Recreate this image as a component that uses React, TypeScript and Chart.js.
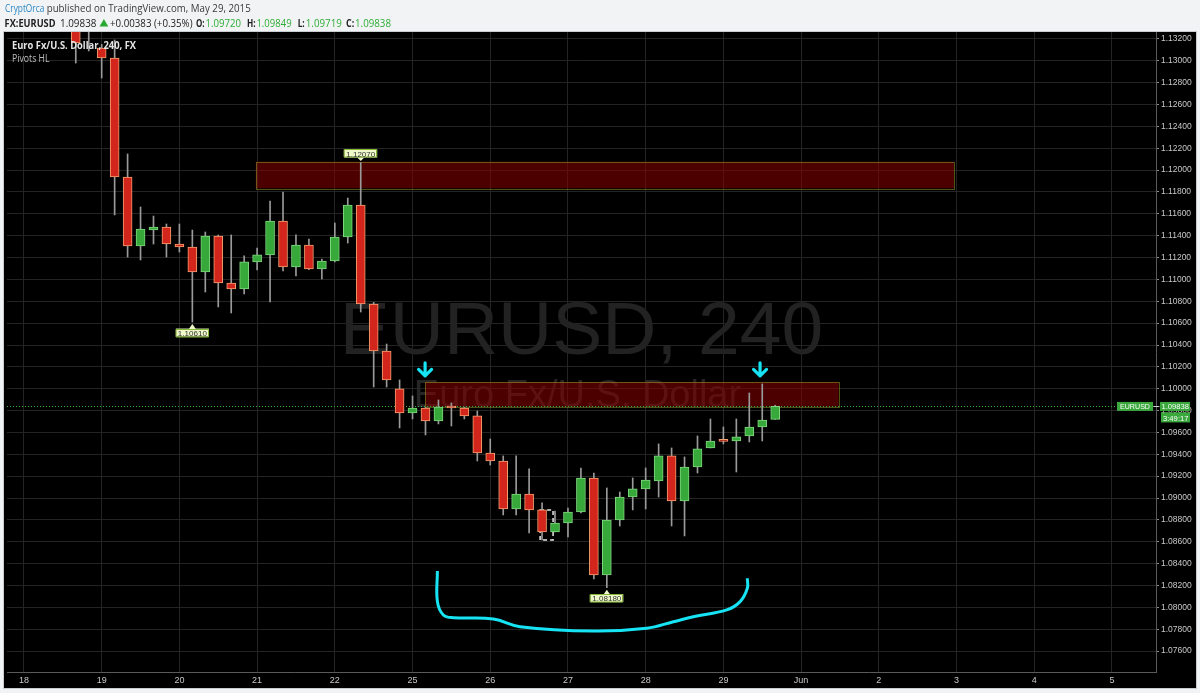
import React, { useEffect, useRef } from 'react';
import { Chart, registerables } from 'chart.js';
Chart.register(...registerables);

// ---------- data ----------
const dayLabels = ['18', '19', '20', '21', '22', '25', '26', '27', '28', '29', 'Jun', '2', '3', '4', '5'];
const barsPerDay = 6;
const firstBar = 4;
const xMin = -1.31;
const xMax = 87.4;
const yMin = 1.07408;
const yMax = 1.13264;
const yStep = 0.002;

const opens = [
  1.134, 1.133, 1.13118, 1.13026, 1.11937, 1.11306, 1.11452, 1.1148, 1.11324, 1.11297,
  1.11068, 1.11397, 1.10967, 1.10913, 1.1116, 1.11224, 1.11535, 1.11114, 1.11315, 1.11096,
  1.11169, 1.11388, 1.11681, 1.10775, 1.10345, 1.1, 1.09778, 1.09824, 1.09705, 1.09842,
  1.09824, 1.09751, 1.09412, 1.09339, 1.089, 1.09037, 1.08891, 1.08689, 1.08771, 1.08872,
  1.09183, 1.08296, 1.08799, 1.09009, 1.09083, 1.09156, 1.09385, 1.08973, 1.09284, 1.09458,
  1.09525, 1.09522, 1.09568, 1.0965, 1.0972,
];
const highs = [
  1.1345, 1.1342, 1.1315, 1.13191, 1.12148, 1.11663, 1.1158, 1.11507, 1.11507, 1.11452,
  1.11434, 1.11407, 1.11407, 1.11215, 1.11288, 1.11718, 1.118, 1.11407, 1.1137, 1.11187,
  1.11516, 1.11745, 1.1207, 1.1079, 1.10409, 1.1008, 1.09934, 1.0983, 1.09897, 1.0987,
  1.0983, 1.09796, 1.0954, 1.09385, 1.09385, 1.09266, 1.08955, 1.08881, 1.08909, 1.09275,
  1.09229, 1.09092, 1.09055, 1.09183, 1.09275, 1.09495, 1.09458, 1.09376, 1.09568, 1.09723,
  1.0965, 1.09723, 1.09961, 1.10044, 1.09849,
];
const lows = [
  1.1298, 1.1309, 1.12843, 1.1159, 1.11205, 1.11178, 1.11324, 1.11205, 1.11251, 1.1061,
  1.10885, 1.10748, 1.10693, 1.10867, 1.11086, 1.10794, 1.11077, 1.11031, 1.1109, 1.11004,
  1.1116, 1.11333, 1.10702, 1.10016, 1.10016, 1.09641, 1.09723, 1.09577, 1.09678, 1.09659,
  1.09723, 1.09339, 1.09302, 1.08845, 1.08845, 1.0868, 1.08616, 1.08689, 1.08643, 1.08863,
  1.08259, 1.0818, 1.08744, 1.08891, 1.089, 1.09009, 1.08744, 1.08653, 1.09229, 1.09458,
  1.09495, 1.09238, 1.09513, 1.09522, 1.09719,
];
const closes = [
  1.13163, 1.1338, 1.13026, 1.11937, 1.11306, 1.11461, 1.1148, 1.11324, 1.11297, 1.11068,
  1.11397, 1.10967, 1.10913, 1.1116, 1.11224, 1.11535, 1.11114, 1.11315, 1.11096, 1.11169,
  1.11388, 1.11681, 1.10775, 1.10345, 1.1008, 1.09778, 1.09824, 1.09705, 1.09833, 1.09824,
  1.09751, 1.09412, 1.09339, 1.089, 1.09037, 1.08891, 1.08689, 1.08771, 1.08872, 1.09183,
  1.08296, 1.08799, 1.09009, 1.09083, 1.09165, 1.09385, 1.08973, 1.09284, 1.09449, 1.09522,
  1.09518, 1.09559, 1.0965, 1.09714, 1.09838,
];

const lastPrice = 1.09838;
const zoneStartBars = [17.9, 30.97];
const zoneEndBars = [71.8, 62.9];
const zoneTops = [1.12077, 1.10062];
const zoneBottoms = [1.11834, 1.09835];
const pivotHighBars = [26];
const pivotHighPrices = [1.1207];
const pivotHighTexts = ['1.12070'];
const pivotLowBars = [13, 45];
const pivotLowPrices = [1.1061, 1.0818];
const pivotLowTexts = ['1.10610', '1.08180'];
const arrowBars = [30.97, 56.83];
const arrowTipPrice = 1.10108;
const curveBars = [31.92, 31.92, 32.38, 33.15, 36.24, 38.3, 43.96, 48.08, 50.14, 51.68, 54.26, 55.29, 55.85, 55.85];
const curvePrices = [1.08332, 1.08052, 1.0793, 1.07905, 1.07893, 1.07823, 1.07783, 1.07808, 1.07868, 1.07914, 1.07976, 1.08052, 1.08174, 1.08265];
const markBars = [39.85, 40.85];
const markPrices = [1.08891, 1.08616];

// ---------- styles ----------
const RED = '#d2261d';
const RED_BORDER = '#f2a070';
const GREEN = '#37a83a';
const GREEN_BORDER = '#7fd67f';
const WICK = '#9a9a9a';
const CYAN = '#16e4f4';
const GRID = '#242424';
const SANS = '"Open Sans", "Noto Sans", sans-serif';
const AXF = '"Liberation Sans", Arial, sans-serif';

function fitText(ctx: CanvasRenderingContext2D, text: string, x: number, y: number, w: number) {
  const m = ctx.measureText(text).width;
  ctx.save();
  ctx.translate(x, y);
  if (m > 0) ctx.scale(w / m, 1);
  ctx.fillText(text, 0, 0);
  ctx.restore();
}

const overlay = {
  id: 'overlay',
  beforeDraw(chart: any) {
    const ctx: CanvasRenderingContext2D = chart.ctx;
    ctx.save();
    ctx.fillStyle = '#f1f3f4';
    ctx.fillRect(0, 0, chart.width, chart.height);
    ctx.fillStyle = '#000';
    ctx.fillRect(4, 32, 1192, 656);
    ctx.strokeStyle = '#c8cdd1';
    ctx.lineWidth = 1;
    ctx.strokeRect(3.5, 31.5, 1193, 657);

    ctx.textBaseline = 'alphabetic';
    ctx.textAlign = 'left';
    // header line 1
    ctx.font = `10.5px ${SANS}`;
    ctx.fillStyle = '#2b87c8';
    fitText(ctx, 'CryptOrca', 5, 12, 39.3);
    ctx.fillStyle = '#3a3a3a';
    fitText(ctx, 'published on TradingView.com, May 29, 2015', 46.7, 12, 204);
    // header line 2
    const segs: [string, number, number, string, boolean][] = [
      ['FX:EURUSD', 4.6, 50.9, '#222', true],
      ['1.09838', 60, 36.4, '#222', false],
      ['+0.00383 (+0.35%)', 110, 82.5, '#222', false],
      ['O:', 196, 8.6, '#222', true],
      ['1.09720', 205.5, 35.5, '#2fae37', false],
      ['H:', 247, 8.6, '#222', true],
      ['1.09849', 256.4, 35.2, '#2fae37', false],
      ['L:', 297.7, 7, '#222', true],
      ['1.09719', 305.8, 36, '#2fae37', false],
      ['C:', 346, 8.2, '#222', true],
      ['1.09838', 355, 36, '#2fae37', false],
    ];
    for (const [t, x, w, c, b] of segs) {
      ctx.font = `${b ? 'bold ' : ''}10.5px ${SANS}`;
      ctx.fillStyle = c;
      fitText(ctx, t, x, 26.5, w);
    }
    ctx.fillStyle = '#2aa835';
    ctx.beginPath();
    ctx.moveTo(99.5, 26.5);
    ctx.lineTo(108.3, 26.5);
    ctx.lineTo(103.9, 19);
    ctx.closePath();
    ctx.fill();
    ctx.restore();
  },
  beforeDatasetsDraw(chart: any) {
    const ctx: CanvasRenderingContext2D = chart.ctx;
    const a = chart.chartArea;
    const xs = chart.scales.x;
    const ys = chart.scales.y;
    ctx.save();
    ctx.beginPath();
    ctx.rect(a.left, a.top, a.right - a.left, a.bottom - a.top);
    ctx.clip();
    // watermark
    const cx = (a.left + a.right) / 2;
    ctx.textAlign = 'center';
    ctx.textBaseline = 'alphabetic';
    ctx.fillStyle = '#222222';
    ctx.font = `75px ${AXF}`;
    ctx.fillText('EURUSD, 240', cx, a.top + 322);
    ctx.font = `38px ${AXF}`;
    ctx.fillStyle = '#262626';
    ctx.fillText('Euro Fx/U.S. Dollar', cx - 4, a.top + 375);
    // zones
    for (let i = 0; i < zoneTops.length; i++) {
      const x1 = xs.getPixelForValue(zoneStartBars[i]);
      const x2 = xs.getPixelForValue(zoneEndBars[i]);
      const y1 = ys.getPixelForValue(zoneTops[i]);
      const y2 = ys.getPixelForValue(zoneBottoms[i]);
      ctx.fillStyle = 'rgba(140, 0, 0, 0.55)';
      ctx.fillRect(x1, y1, x2 - x1, y2 - y1);
      ctx.strokeStyle = 'rgba(140, 155, 40, 0.55)';
      ctx.lineWidth = 1;
      ctx.strokeRect(Math.round(x1) + 0.5, Math.round(y1) + 0.5, Math.round(x2 - x1), Math.round(y2 - y1));
    }
    // current price dotted line
    const py = Math.round(ys.getPixelForValue(lastPrice)) + 0.5;
    ctx.strokeStyle = '#33b040';
    ctx.setLineDash([1, 2]);
    ctx.beginPath();
    ctx.moveTo(a.left, py);
    ctx.lineTo(a.right, py);
    ctx.stroke();
    // dashed mark
    ctx.strokeStyle = '#e8e8e8';
    ctx.lineWidth = 1.5;
    ctx.setLineDash([4, 3]);
    const mx1 = xs.getPixelForValue(markBars[0]);
    const mx2 = xs.getPixelForValue(markBars[1]);
    const my1 = ys.getPixelForValue(markPrices[0]);
    const my2 = ys.getPixelForValue(markPrices[1]);
    ctx.strokeRect(mx1, my1, mx2 - mx1, my2 - my1);
    ctx.setLineDash([]);
    ctx.restore();
  },
  afterDatasetsDraw(chart: any) {
    const ctx: CanvasRenderingContext2D = chart.ctx;
    const xs = chart.scales.x;
    const ys = chart.scales.y;
    ctx.save();
    // arrows
    ctx.strokeStyle = CYAN;
    ctx.lineWidth = 3.2;
    ctx.lineCap = 'round';
    ctx.lineJoin = 'round';
    const tip = ys.getPixelForValue(arrowTipPrice);
    for (const b of arrowBars) {
      const x = xs.getPixelForValue(b);
      ctx.beginPath();
      ctx.moveTo(x, tip - 14);
      ctx.lineTo(x, tip - 1);
      ctx.moveTo(x - 6.5, tip - 7.5);
      ctx.lineTo(x, tip - 1);
      ctx.lineTo(x + 6.5, tip - 7.5);
      ctx.stroke();
    }
    // pivot labels
    const drawLabel = (x: number, boxTop: number, text: string, apexY: number, baseY: number) => {
      ctx.fillStyle = '#eef8c8';
      ctx.strokeStyle = '#86b838';
      ctx.lineWidth = 1;
      ctx.beginPath();
      ctx.moveTo(x - 3.5, baseY);
      ctx.lineTo(x, apexY);
      ctx.lineTo(x + 3.5, baseY);
      ctx.closePath();
      ctx.fill();
      ctx.fillRect(x - 16.5, boxTop, 33, 8);
      ctx.strokeRect(Math.round(x - 16.5) + 0.5, Math.round(boxTop) + 0.5, 32, 7.5);
      ctx.fillStyle = '#333';
      ctx.font = `8px ${AXF}`;
      ctx.textAlign = 'left';
      ctx.textBaseline = 'alphabetic';
      fitText(ctx, text, x - 14.5, boxTop + 7.3, 29);
    };
    for (let i = 0; i < pivotHighBars.length; i++) {
      const x = xs.getPixelForValue(pivotHighBars[i]);
      const y = ys.getPixelForValue(pivotHighPrices[i]);
      drawLabel(x, y - 13, pivotHighTexts[i], y - 1.5, y - 5);
    }
    for (let i = 0; i < pivotLowBars.length; i++) {
      const x = xs.getPixelForValue(pivotLowBars[i]);
      const y = ys.getPixelForValue(pivotLowPrices[i]);
      drawLabel(x, y + 6.5, pivotLowTexts[i], y + 2, y + 7);
    }
    // top-left legend
    ctx.textAlign = 'left';
    ctx.textBaseline = 'alphabetic';
    ctx.font = `bold 10.5px ${SANS}`;
    ctx.fillStyle = '#e4e4e4';
    fitText(ctx, 'Euro Fx/U.S. Dollar, 240, FX', 12, 49, 124);
    ctx.font = `10.5px ${SANS}`;
    ctx.fillStyle = '#bdbdbd';
    fitText(ctx, 'Pivots HL', 12, 62, 37.5);
    // price labels on right
    const py = ys.getPixelForValue(lastPrice);
    ctx.fillStyle = '#3aa83c';
    ctx.fillRect(1117, py - 4.5, 36, 9);
    ctx.fillRect(1160, py - 4.5, 30, 9);
    ctx.fillRect(1161, py + 6, 29, 10);
    ctx.strokeStyle = '#cfcfcf';
    ctx.beginPath();
    ctx.moveTo(1154, Math.round(py) + 0.5);
    ctx.lineTo(1159, Math.round(py) + 0.5);
    ctx.stroke();
    ctx.fillStyle = '#ffffff';
    ctx.font = `8px ${AXF}`;
    ctx.textAlign = 'left';
    fitText(ctx, 'EURUSD', 1120, py + 3, 30);
    fitText(ctx, '1.09838', 1161.5, py + 3, 27.5);
    fitText(ctx, '3:49:17', 1163, py + 14.5, 25.5);
    ctx.restore();
  },
};

export default function App() {
  const ref = useRef<HTMLCanvasElement | null>(null);
  useEffect(() => {
    if (!ref.current) return;
    const barX = opens.map((_, i) => firstBar + i);
    const up = closes.map((c, i) => c >= opens[i]);
    const chart = new Chart(ref.current, {
      type: 'bar',
      data: {
        datasets: [
          {
            type: 'line',
            data: curveBars.map((x, i) => ({ x, y: curvePrices[i] })),
            borderColor: CYAN,
            borderWidth: 3,
            pointRadius: 0,
            tension: 0.4,
            fill: false,
          } as any,
          {
            type: 'bar',
            data: barX.map((x, i) => ({ x, y: [opens[i], closes[i]] })),
            backgroundColor: up.map((u) => (u ? GREEN : RED)),
            borderColor: up.map((u) => (u ? GREEN_BORDER : RED_BORDER)),
            borderWidth: 1,
            borderSkipped: false,
            barThickness: 9,
            minBarLength: 2,
            grouped: false,
          } as any,
          {
            type: 'bar',
            data: barX.map((x, i) => ({ x, y: [lows[i], highs[i]] })),
            backgroundColor: WICK,
            borderWidth: 0,
            barThickness: 1,
            grouped: false,
          } as any,
        ],
      },
      options: {
        animation: false,
        responsive: false,
        maintainAspectRatio: false,
        devicePixelRatio: 1,
        layout: { padding: { left: 7, top: 32, right: 4, bottom: 7 } },
        plugins: { legend: { display: false }, tooltip: { enabled: false } },
        scales: {
          x: {
            type: 'linear',
            min: xMin,
            max: xMax,
            offset: false,
            afterBuildTicks: (s: any) => {
              s.ticks = dayLabels.map((_, i) => ({ value: i * barsPerDay }));
            },
            afterFit: (s: any) => {
              s.height = 14;
            },
            ticks: {
              autoSkip: false,
              maxRotation: 0,
              padding: 3,
              color: '#c8c8c8',
              font: { family: AXF, size: 9 },
              callback: (v: any) => dayLabels[Math.round(Number(v) / barsPerDay)] ?? '',
            },
            grid: { color: GRID, drawTicks: false, offset: false },
            border: { color: '#5a5a5a' },
          },
          y: {
            type: 'linear',
            position: 'right',
            min: yMin,
            max: yMax,
            afterFit: (s: any) => {
              s.width = 40;
            },
            ticks: {
              stepSize: yStep,
              includeBounds: false,
              maxTicksLimit: 100,
              autoSkip: false,
              padding: 2,
              color: '#c8c8c8',
              font: { family: AXF, size: 8.5 },
              callback: (v: any) => Number(v).toFixed(5),
            },
            grid: { color: GRID, tickLength: 3, tickColor: '#8a8a8a' },
            border: { color: '#5a5a5a' },
          },
        },
      } as any,
      plugins: [overlay],
    });
    return () => chart.destroy();
  }, []);
  return (
    <div style={{ position: 'fixed', left: 0, top: 0, width: 1200, height: 693 }}>
      <canvas ref={ref} width={1200} height={693} style={{ display: 'block' }} />
    </div>
  );
}
